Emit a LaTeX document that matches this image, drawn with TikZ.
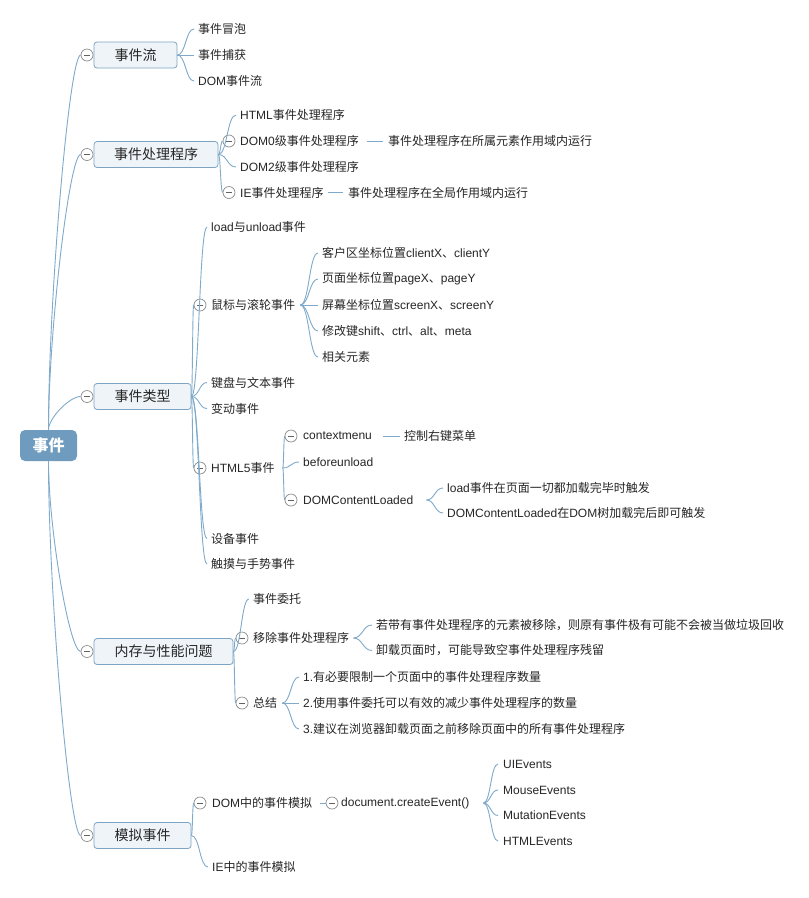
\documentclass[tikz,border=0pt]{standalone}
\usepackage{fontspec}
\setmainfont{Noto Sans CJK SC}
\newfontfamily\latf{Liberation Sans}
\newcommand\La[1]{{\latf #1}}
\usetikzlibrary{calc}
\definecolor{linec}{HTML}{7FAACB}
\definecolor{rootc}{HTML}{6F9CBE}
\definecolor{boxb}{HTML}{7DA4C3}
\definecolor{boxf}{HTML}{EEF4F8}
\definecolor{circd}{HTML}{8C8C8C}
\definecolor{txtc}{HTML}{262626}
\tikzset{
  rootbox/.style={fill=rootc, rounded corners=5pt, minimum width=57pt, minimum height=31pt, inner sep=0pt, text=white, font=\fontsize{16}{18}\selectfont\bfseries},
  mainbox/.style={draw=boxb, fill=boxf, rounded corners=3pt, minimum height=26pt, inner sep=0pt, line width=0.8pt, text=txtc, font=\fontsize{14}{16}\selectfont},
  txt/.style={anchor=west, inner sep=0pt, text=txtc, font=\fontsize{12}{14}\selectfont},
  circ/.style={circle, draw=circd, fill=white, minimum size=12pt, inner sep=0pt, line width=0.7pt,
    path picture={\draw[draw=circd!70!black, line width=0.8pt] ([xshift=3pt]path picture bounding box.west) -- ([xshift=-3pt]path picture bounding box.east);}},
  conn/.style={draw=linec, line width=0.9pt},
  bz/.style={conn, to path={let \p1=(\tikztostart), \p2=(\tikztotarget) in .. controls ({0.5*\x1+0.5*\x2},\y1) and ({0.5*\x1+0.5*\x2},\y2) .. (\p2)}},
  trk/.style={conn, to path={let \p1=(\tikztostart), \p2=(\tikztotarget) in .. controls (\x1,{\y1+0.35*(\y2-\y1)}) and ({\x1+0.65*(\x2-\x1)},\y2) .. (\p2)}}
}
\begin{document}
\begin{tikzpicture}[x=1pt,y=-1pt]
\fill[white] (0,0) rectangle (809,898);
\useasboundingbox (0,0) rectangle (809,898);

% root
\node[rootbox] (root) at (48.5,445.5) {事件};

% main boxes
\node[mainbox, minimum width=83pt] (m1) at (135.5,55) {事件流};
\node[circ] (cm1) at (87,55) {};
\node[mainbox, minimum width=124pt] (m2) at (156,154.5) {事件处理程序};
\node[circ] (cm2) at (87,154.5) {};
\node[mainbox, minimum width=97pt] (m3) at (142.5,396.5) {事件类型};
\node[circ] (cm3) at (87,396.5) {};
\node[mainbox, minimum width=139pt] (m4) at (163.5,651.5) {内存与性能问题};
\node[circ] (cm4) at (87,651.5) {};
\node[mainbox, minimum width=97pt] (m5) at (142.5,835.5) {模拟事件};
\node[circ] (cm5) at (87,835.5) {};

\draw[trk] (root.north) to (cm1.west);
\draw[trk] (root.north) to (cm2.west);
\draw[trk] (root.north) to (cm3.west);
\draw[trk] (root.south) to (cm4.west);
\draw[trk] (root.south) to (cm5.west);

% 事件流
\node[txt] (a1) at (198,29) {事件冒泡};
\node[txt] (a2) at (198,55) {事件捕获};
\node[txt] (a3) at (198,81) {\La{DOM}事件流};
\foreach \q in {a1,a2,a3} \draw[bz] (m1.east) to ([xshift=-4pt]\q.west);

% 事件处理程序
\node[txt] (b1) at (240,115) {\La{HTML}事件处理程序};
\node[circ] (cb2) at (229,141) {};
\node[txt] (b2) at (240,141) {\La{DOM0}级事件处理程序};
\node[txt] (b3) at (240,167) {\La{DOM2}级事件处理程序};
\node[circ] (cb4) at (229,192.5) {};
\node[txt] (b4) at (240,192.5) {\La{IE}事件处理程序};
\node[txt] (b2c) at (388,141) {事件处理程序在所属元素作用域内运行};
\node[txt] (b4c) at (348,192.5) {事件处理程序在全局作用域内运行};
\draw[bz] (m2.east) to ([xshift=-4pt]b1.west);
\draw[bz] (m2.east) to (cb2.west);
\draw[bz] (m2.east) to ([xshift=-4pt]b3.west);
\draw[bz] (m2.east) to (cb4.west);
\draw[conn] ([xshift=8pt]b2.east) -- ([xshift=-5pt]b2c.west);
\draw[conn] ([xshift=4pt]b4.east) -- ([xshift=-5pt]b4c.west);

% 事件类型
\node[txt] (c1) at (211,227) {\La{load}与\La{unload}事件};
\node[circ] (cc2) at (200,305) {};
\node[txt] (c2) at (211,305) {鼠标与滚轮事件};
\node[txt] (c3) at (211,382.5) {键盘与文本事件};
\node[txt] (c4) at (211,408.5) {变动事件};
\node[circ] (cc5) at (200,468) {};
\node[txt] (c5) at (211,468) {\La{HTML5}事件};
\node[txt] (c6) at (211,538.5) {设备事件};
\node[txt] (c7) at (211,564) {触摸与手势事件};
\draw[bz] (m3.east) to ([xshift=-4pt]c1.west);
\draw[bz] (m3.east) to (cc2.west);
\draw[bz] (m3.east) to ([xshift=-4pt]c3.west);
\draw[bz] (m3.east) to ([xshift=-4pt]c4.west);
\draw[bz] (m3.east) to (cc5.west);
\draw[bz] (m3.east) to ([xshift=-4pt]c6.west);
\draw[bz] (m3.east) to ([xshift=-4pt]c7.west);

% 鼠标与滚轮事件
\node[txt] (h1) at (322,253) {客户区坐标位置\La{clientX}、\La{clientY}};
\node[txt] (h2) at (322,279) {页面坐标位置\La{pageX}、\La{pageY}};
\node[txt] (h3) at (322,305) {屏幕坐标位置\La{screenX}、\La{screenY}};
\node[txt] (h4) at (322,331) {修改键\La{shift}、\La{ctrl}、\La{alt}、\La{meta}};
\node[txt] (h5) at (322,357) {相关元素};
\foreach \q in {h1,h2,h3,h4,h5} \draw[bz] ([xshift=5pt]c2.east) to ([xshift=-4pt]\q.west);

% HTML5事件
\node[circ] (cf1) at (291,436) {};
\node[txt] (f1) at (303,436) {\La{contextmenu}};
\node[txt] (f1c) at (404,436) {控制右键菜单};
\node[txt] (f2) at (303,462) {\La{beforeunload}};
\node[circ] (cf3) at (291,500) {};
\node[txt] (f3) at (303,500) {\La{DOMContentLoaded}};
\node[txt] (f3a) at (447,488) {\La{load}事件在页面一切都加载完毕时触发};
\node[txt] (f3b) at (447,513) {\La{DOMContentLoaded}在\La{DOM}树加载完后即可触发};
\draw[bz] ([xshift=8pt]c5.east) to (cf1.west);
\draw[bz] ([xshift=8pt]c5.east) to ([xshift=-4pt]f2.west);
\draw[bz] ([xshift=8pt]c5.east) to (cf3.west);
\draw[conn] ([xshift=11pt]f1.east) -- ([xshift=-4pt]f1c.west);
\draw[bz] ([xshift=13pt]f3.east) to ([xshift=-4pt]f3a.west);
\draw[bz] ([xshift=13pt]f3.east) to ([xshift=-4pt]f3b.west);

% 内存与性能问题
\node[txt] (d1) at (253,599) {事件委托};
\node[circ] (cd2) at (242,638) {};
\node[txt] (d2) at (253,638) {移除事件处理程序};
\node[circ] (cd3) at (242,703) {};
\node[txt] (d3) at (253,703) {总结};
\draw[bz] (m4.east) to ([xshift=-4pt]d1.west);
\draw[bz] (m4.east) to (cd2.west);
\draw[bz] (m4.east) to (cd3.west);
\node[txt] (k1) at (376,625) {若带有事件处理程序的元素被移除，则原有事件极有可能不会被当做垃圾回收};
\node[txt] (k2) at (376,650.5) {卸载页面时，可能导致空事件处理程序残留};
\draw[bz] ([xshift=4pt]d2.east) to ([xshift=-4pt]k1.west);
\draw[bz] ([xshift=4pt]d2.east) to ([xshift=-4pt]k2.west);
\node[txt] (s1) at (303,677) {\La{1.}有必要限制一个页面中的事件处理程序数量};
\node[txt] (s2) at (303,703) {\La{2.}使用事件委托可以有效的减少事件处理程序的数量};
\node[txt] (s3) at (303,729) {\La{3.}建议在浏览器卸载页面之前移除页面中的所有事件处理程序};
\foreach \q in {s1,s2,s3} \draw[bz] ([xshift=5pt]d3.east) to ([xshift=-4pt]\q.west);

% 模拟事件
\node[circ] (ce1) at (200,803) {};
\node[txt] (e1) at (212,803) {\La{DOM}中的事件模拟};
\node[txt] (e2) at (212,867) {\La{IE}中的事件模拟};
\draw[bz] (m5.east) to (ce1.west);
\draw[bz] (m5.east) to ([xshift=-4pt]e2.west);
\node[circ] (cg) at (332,803) {};
\node[txt] (g) at (341,803) {\La{document.createEvent()}};
\draw[conn] ([xshift=8pt]e1.east) -- (cg.west);
\node[txt] (g1) at (503,764) {\La{UIEvents}};
\node[txt] (g2) at (503,790) {\La{MouseEvents}};
\node[txt] (g3) at (503,815.5) {\La{MutationEvents}};
\node[txt] (g4) at (503,841) {\La{HTMLEvents}};
\foreach \q in {g1,g2,g3,g4} \draw[bz] ([xshift=14pt]g.east) to ([xshift=-5pt]\q.west);
\end{tikzpicture}
\end{document}
